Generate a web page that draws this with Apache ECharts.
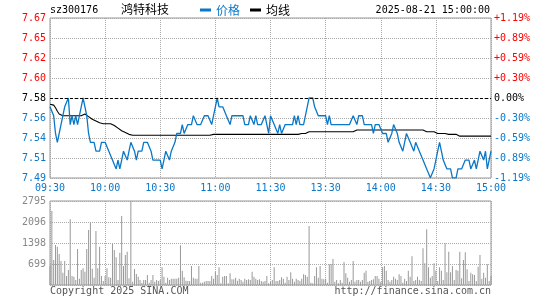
<!DOCTYPE html>
<html><head><meta charset="utf-8">
<script src="https://cdn.jsdelivr.net/npm/echarts/dist/echarts.min.js"></script>
<style>html,body{margin:0;padding:0;background:#fff}#chart{width:545px;height:300px}</style>
</head><body><div id="chart"></div>
<script>
const stockCode = 'sz300176';
const stockName = '鸿特科技';
const dateText = '2025-08-21 15:00:00';
const preClose = 7.58;
const maxPct = 1.19;
const timeLabels = ['09:30','10:00','10:30','11:00','11:30','13:30','14:00','14:30','15:00'];
const priceLabels = ['7.49','7.51','7.54','7.56','7.58','7.60','7.62','7.65','7.67'];
const pctLabels = ['-1.19%','-0.89%','-0.59%','-0.30%','0.00%','+0.30%','+0.59%','+0.89%','+1.19%'];
const volLabels = ['','699','1398','2096','2795'];
const volMax = 2795;

const priceVals = [
7.57,7.57,7.56,7.54,7.53,7.54,7.55,7.56,7.57,7.57,
7.58,7.55,7.56,7.55,7.56,7.55,7.56,7.57,7.58,7.58,
7.56,7.54,7.53,7.53,7.53,7.52,7.52,7.52,7.53,7.53,
7.53,7.53,7.52,7.52,7.51,7.51,7.50,7.51,7.50,7.51,
7.52,7.52,7.51,7.52,7.53,7.53,7.52,7.51,7.52,7.52,
7.52,7.53,7.53,7.53,7.53,7.52,7.51,7.51,7.51,7.51,
7.51,7.50,7.51,7.52,7.52,7.51,7.52,7.52,7.53,7.54,
7.54,7.54,7.55,7.54,7.54,7.55,7.55,7.55,7.56,7.56,
7.55,7.55,7.55,7.55,7.56,7.56,7.56,7.56,7.55,7.56,
7.57,7.58,7.57,7.57,7.57,7.57,7.56,7.56,7.55,7.56,
7.56,7.56,7.56,7.56,7.56,7.56,7.55,7.55,7.55,7.56,
7.56,7.55,7.56,7.55,7.55,7.55,7.55,7.56,7.55,7.54,
7.56,7.56,7.55,7.55,7.54,7.55,7.54,7.54,7.55,7.55,
7.55,7.55,7.55,7.56,7.55,7.56,7.55,7.55,7.55,7.56,
7.57,7.58,7.58,7.58,7.57,7.57,7.56,7.56,7.56,7.56,
7.56,7.55,7.56,7.55,7.55,7.55,7.55,7.55,7.55,7.55,
7.55,7.55,7.55,7.55,7.55,7.56,7.56,7.55,7.56,7.56,
7.56,7.55,7.55,7.55,7.55,7.55,7.54,7.55,7.55,7.55,
7.55,7.54,7.54,7.54,7.53,7.53,7.54,7.55,7.55,7.54,
7.53,7.53,7.52,7.53,7.54,7.54,7.53,7.53,7.52,7.53,
7.53,7.52,7.52,7.51,7.51,7.50,7.50,7.49,7.49,7.50,
7.51,7.52,7.53,7.52,7.51,7.51,7.50,7.50,7.50,7.49,
7.49,7.49,7.50,7.50,7.50,7.50,7.51,7.51,7.51,7.50,
7.50,7.51,7.50,7.51,7.52,7.52,7.51,7.52,7.50,7.50,
7.52];

const avgVals = [
7.573,7.573,7.572,7.569,7.565,7.562,7.560,7.560,7.560,7.560,
7.560,7.560,7.560,7.560,7.560,7.560,7.560,7.560,7.561,7.562,
7.561,7.559,7.558,7.556,7.555,7.554,7.553,7.552,7.551,7.551,
7.551,7.551,7.551,7.551,7.550,7.549,7.547,7.546,7.544,7.543,
7.542,7.541,7.540,7.539,7.538,7.538,7.538,7.538,7.538,7.538,
7.538,7.538,7.538,7.538,7.538,7.538,7.538,7.538,7.538,7.538,
7.538,7.538,7.538,7.538,7.538,7.538,7.538,7.538,7.538,7.538,
7.538,7.538,7.538,7.538,7.538,7.538,7.538,7.538,7.538,7.538,
7.538,7.538,7.538,7.538,7.538,7.538,7.538,7.538,7.538,7.539,
7.539,7.539,7.539,7.539,7.539,7.539,7.539,7.539,7.539,7.539,
7.539,7.539,7.539,7.539,7.539,7.539,7.539,7.539,7.539,7.539,
7.539,7.539,7.539,7.539,7.539,7.539,7.539,7.539,7.539,7.539,
7.539,7.539,7.539,7.539,7.539,7.539,7.539,7.539,7.539,7.539,
7.539,7.539,7.539,7.539,7.539,7.539,7.540,7.540,7.540,7.540,
7.540,7.542,7.542,7.542,7.542,7.542,7.542,7.542,7.542,7.542,
7.542,7.542,7.542,7.542,7.542,7.542,7.542,7.542,7.542,7.542,
7.542,7.542,7.542,7.542,7.542,7.542,7.544,7.544,7.544,7.544,
7.544,7.544,7.544,7.544,7.544,7.544,7.544,7.544,7.544,7.544,
7.544,7.544,7.544,7.544,7.544,7.544,7.544,7.544,7.544,7.544,
7.544,7.544,7.544,7.544,7.544,7.544,7.544,7.544,7.544,7.544,
7.544,7.544,7.544,7.544,7.542,7.542,7.542,7.542,7.542,7.542,
7.540,7.540,7.540,7.540,7.540,7.540,7.540,7.539,7.539,7.539,
7.539,7.539,7.537,7.537,7.537,7.537,7.537,7.537,7.537,7.537,
7.537,7.537,7.537,7.537,7.537,7.537,7.537,7.537,7.537,7.537,
7.537];

const volVals = [
633,2464,833,1332,1276,1032,800,411,800,300,
500,2187,300,277,166,1199,211,500,555,444,
1199,1832,2076,544,244,1798,555,1276,300,133,
300,555,255,244,1365,1166,921,166,1077,2298,
633,999,1110,222,2795,111,533,366,277,166,
78,166,166,333,78,166,333,111,166,133,
166,588,277,78,244,166,211,211,211,211,
244,1321,477,255,144,133,133,633,244,211,
211,633,78,78,111,133,133,133,300,211,
444,333,588,55,277,300,300,55,388,189,
189,244,144,211,166,111,211,166,189,166,
444,277,211,166,189,133,111,133,300,55,
111,166,588,133,133,166,255,211,78,277,
166,422,211,111,211,166,133,211,355,333,
277,1965,78,55,300,588,244,633,211,189,
211,78,688,699,866,111,166,55,166,78,
766,388,244,111,166,800,111,166,166,111,
166,411,477,111,133,166,189,300,300,211,
111,588,633,477,166,111,166,277,211,166,
355,300,78,211,133,477,277,955,133,166,
277,166,133,1221,722,1854,588,244,300,722,
477,133,588,477,166,1388,422,1110,422,633,
166,500,477,1110,222,833,1088,522,133,411,
355,333,133,611,999,211,411,244,688,133,
300];

const BLUE = '#0a78c8', RED = '#ff0000', GRID = '#aaaaaa', FRAME = '#999999';
const MONO = 'DejaVu Sans Mono';
const CJK = 'Noto Sans CJK SC';
const unit = preClose * maxPct / 100 / 4;
const toY = p => (p - preClose) / unit;

const chart = echarts.init(document.getElementById('chart'), null, {renderer: 'canvas'});
const dotted = {color: GRID, type: 'dotted', width: 1};
const option = {
  animation: false,
  backgroundColor: '#fff',
  legend: {
    left: 200, top: 4, padding: 0, itemWidth: 11, itemHeight: 3, itemGap: 10, icon: 'rect',
    textStyle: {fontFamily: CJK, fontSize: 12},
    data: [{name: '价格', textStyle: {color: BLUE}}, {name: '均线', textStyle: {color: '#000'}}]
  },
  graphic: [
    {type: 'text', left: 50, top: 5, style: {text: stockCode, font: '10px ' + MONO, fill: '#000'}},
    {type: 'text', left: 121, top: 3, style: {text: stockName, font: '12px "' + CJK + '"', fill: '#000'}},
    {type: 'text', right: 55, top: 5, style: {text: dateText, font: '10px ' + MONO, fill: '#000'}},
    {type: 'text', left: 50, top: 286, style: {text: 'Copyright 2025 SINA.COM', font: '10px ' + MONO, fill: '#555'}},
    {type: 'text', right: 54, top: 286, style: {text: 'http://finance.sina.com.cn', font: '10px ' + MONO, fill: '#555'}}
  ],
  grid: [
    {left: 50, top: 18, width: 441, height: 160, show: true, borderColor: FRAME, borderWidth: 1, backgroundColor: 'transparent'},
    {left: 50, top: 201, width: 441, height: 84, show: true, borderColor: FRAME, borderWidth: 1, backgroundColor: 'transparent'}
  ],
  xAxis: [
    {type: 'value', gridIndex: 0, min: 0, max: 240, interval: 30,
     axisLine: {show: false}, axisTick: {show: false},
     axisLabel: {margin: 5, color: BLUE, fontFamily: MONO, fontSize: 10, formatter: v => timeLabels[Math.round(v / 30)]},
     splitLine: {show: true, lineStyle: dotted}},
    {type: 'value', gridIndex: 1, min: 0, max: 240, interval: 30,
     axisLine: {show: false}, axisTick: {show: false}, axisLabel: {show: false},
     splitLine: {show: true, lineStyle: dotted}}
  ],
  yAxis: [
    {type: 'value', gridIndex: 0, min: -4, max: 4, interval: 1, position: 'left',
     axisLine: {show: false}, axisTick: {show: false},
     axisLabel: {margin: 4, fontFamily: MONO, fontSize: 10,
       formatter: v => priceLabels[Math.round(v) + 4],
       color: (val, idx) => { const n = Math.round(Number(val)); return n > 0 ? RED : (n < 0 ? BLUE : '#000'); }},
     splitLine: {show: true, lineStyle: dotted}},
    {type: 'value', gridIndex: 0, min: -4, max: 4, interval: 1, position: 'right',
     axisLine: {show: false}, axisTick: {show: false},
     axisLabel: {margin: 3, fontFamily: MONO, fontSize: 10,
       formatter: v => pctLabels[Math.round(v) + 4],
       color: (val, idx) => { const n = Math.round(Number(val)); return n > 0 ? RED : (n < 0 ? BLUE : '#000'); }},
     splitLine: {show: false}},
    {type: 'value', gridIndex: 1, min: 0, max: volMax, interval: volMax / 4,
     axisLine: {show: false}, axisTick: {show: false},
     axisLabel: {margin: 4, fontFamily: MONO, fontSize: 10, color: '#888',
       formatter: v => volLabels[Math.round(v / (volMax / 4))]},
     splitLine: {show: true, lineStyle: dotted}}
  ],
  series: [
    {name: '价格', type: 'line', xAxisIndex: 0, yAxisIndex: 0, symbol: 'none', z: 4,
     data: priceVals.map((p, i) => [i, toY(p)]),
     lineStyle: {color: BLUE, width: 1.3}, itemStyle: {color: BLUE},
     markLine: {silent: true, symbol: ['none', 'none'], label: {show: false},
       lineStyle: {color: '#000', type: [3, 2], width: 1}, data: [{yAxis: 0}]}},
    {name: '均线', type: 'line', xAxisIndex: 0, yAxisIndex: 0, symbol: 'none', z: 3,
     data: avgVals.map((p, i) => [i, toY(p)]),
     lineStyle: {color: '#000', width: 1.1}, itemStyle: {color: '#000'}},
    {name: '成交量', type: 'bar', xAxisIndex: 1, yAxisIndex: 2, barWidth: 1,
     data: volVals.map((v, i) => [i, v]),
     itemStyle: {color: '#999'}}
  ]
};
chart.setOption(option);
</script></body></html>
